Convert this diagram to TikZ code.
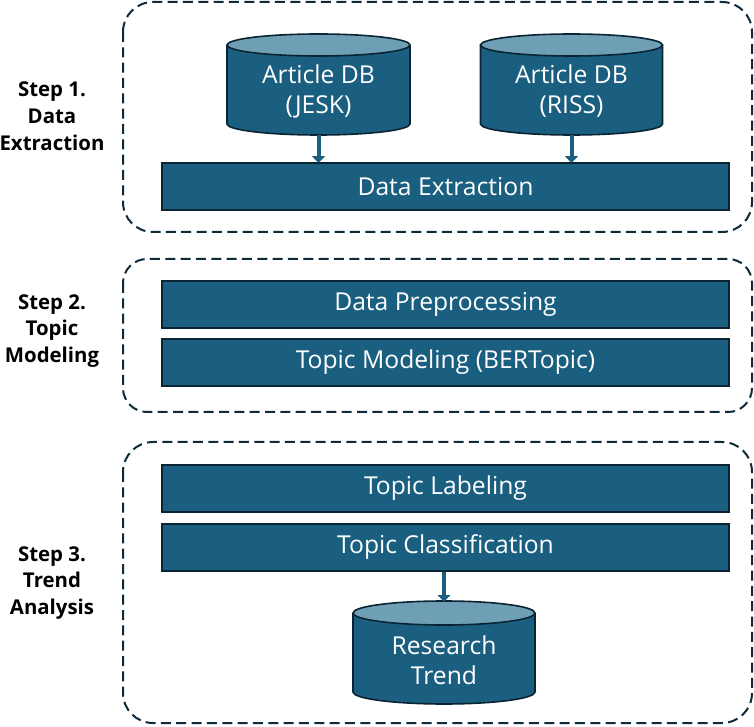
\documentclass[tikz,border=0pt]{standalone}
\usepackage{fontspec}
\setmainfont{Open Sans}
\usetikzlibrary{arrows.meta}
\definecolor{boxfill}{HTML}{1A5F80}
\definecolor{topfill}{HTML}{6F9FB4}
\definecolor{edge}{HTML}{0B2433}
\definecolor{dashc}{HTML}{0F2B3A}
\tikzset{
  stage/.style={draw=dashc, line width=1.5pt, dash pattern=on 7.5pt off 4pt},
  procbox/.style={draw=edge, fill=boxfill, line width=1.2pt, minimum width=567*0.75pt, minimum height=47*0.75pt, inner sep=0pt, text=white, font=\fontsize{18.5}{20}\selectfont},
  dbtext/.style={text=white, align=center, font=\fontsize{18.5}{22.5}\selectfont},
  steplabel/.style={align=center, font=\bfseries\fontsize{15.3}{20.2}\selectfont},
  flow/.style={draw=boxfill, line width=3pt, -{Triangle[width=9.5pt,length=5pt]}, shorten >=-0.5pt},
}
\newcommand{\dbcyl}[6]{% name, cx, topy, bottomy, rx, ry  (y given positive downward)
  \fill[boxfill] (#2-#5,-#3) -- (#2-#5,-#4) arc[start angle=180,end angle=360,x radius=#5,y radius=#6] -- (#2+#5,-#3) -- cycle;
  \draw[edge, line width=1.2pt] (#2-#5,-#3) -- (#2-#5,-#4) arc[start angle=180,end angle=360,x radius=#5,y radius=#6] -- (#2+#5,-#3);
  \draw[edge, fill=topfill, line width=1.2pt] (#2,-#3) ellipse[x radius=#5, y radius=#6];
  \coordinate (#1-bot) at (#2,-#4-#6);
  \coordinate (#1-top) at (#2,-#3+#6);
}
\begin{document}
\begin{tikzpicture}[x=0.75pt,y=0.75pt]
\useasboundingbox (0,0) rectangle (754,-727);
% stage frames
\draw[stage, rounded corners=30*0.75pt] (123,-2) rectangle (752,-232);
\draw[stage, rounded corners=24*0.75pt] (123,-259) rectangle (752,-412);
\draw[stage, rounded corners=30*0.75pt] (123,-442) rectangle (752,-723);
% step labels
\node[steplabel] (s1) at (52,-116) {Step 1.\\Data\\Extraction};
\node[steplabel] (s2) at (52,-331) {Step 2.\\Topic\\Modeling};
\node[steplabel] (s3) at (52,-583) {Step 3.\\Trend\\Analysis};
% cylinders
\dbcyl{jesk}{318.5}{45}{124}{91.5}{11}
\dbcyl{riss}{571.5}{45}{124}{91}{11}
\dbcyl{trend}{444}{613}{692}{91}{12}
\node[dbtext] (jeskt) at (318.5,-91) {Article DB\\(JESK)};
\node[dbtext] (risst) at (571.5,-91) {Article DB\\(RISS)};
\node[dbtext] (trendt) at (444,-660) {Research\\Trend};
% process boxes
\node[procbox] (extract) at (445.5,-186.5) {Data Extraction};
\node[procbox] (prep) at (445.5,-304.5) {Data Preprocessing};
\node[procbox] (model) at (445.5,-362.5) {Topic Modeling (BERTopic)};
\node[procbox] (label) at (445.5,-488.5) {Topic Labeling};
\node[procbox] (class) at (445.5,-547.5) {Topic Classification};
% arrows
\draw[flow] (jesk-bot) -- (jesk-bot |- extract.north);
\draw[flow] (riss-bot) -- (riss-bot |- extract.north);
\draw[flow] (class.south -| trend-top) -- (trend-top);
\end{tikzpicture}
\end{document}
